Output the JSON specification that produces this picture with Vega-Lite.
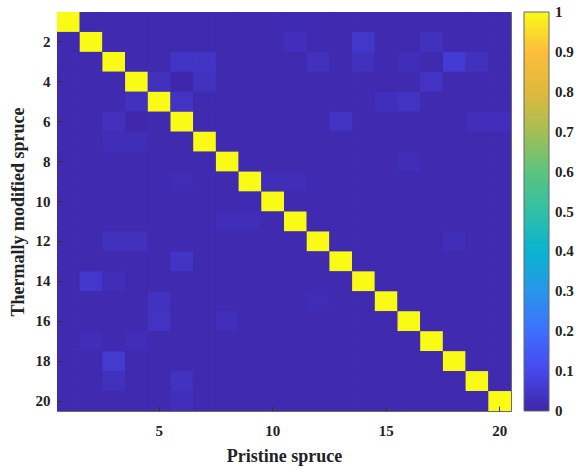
{
  "$schema": "https://vega.github.io/schema/vega-lite/v6.json",
  "width": 454,
  "height": 399,
  "autosize": {"type": "none"},
  "padding": {"left": 57, "top": 12, "right": 68, "bottom": 57},
  "background": "white",
  "config": {"view": {"stroke": "#6b6b6b", "strokeWidth": 1, "fill": "#3f2bae"}, "font": "Liberation Serif", "axis": {"grid": false}},
  "data": {"values": [
{"p":1,"t":1,"v":1},{"p":2,"t":1,"v":0.012},{"p":3,"t":1,"v":0.012},{"p":4,"t":1,"v":0.012},{"p":5,"t":1,"v":0.012},{"p":6,"t":1,"v":0.012},{"p":7,"t":1,"v":0.012},{"p":8,"t":1,"v":0.012},{"p":9,"t":1,"v":0.012},{"p":10,"t":1,"v":0.012},{"p":11,"t":1,"v":0.016},{"p":12,"t":1,"v":0.012},{"p":13,"t":1,"v":0.012},{"p":14,"t":1,"v":0.012},{"p":15,"t":1,"v":0.012},{"p":16,"t":1,"v":0.012},{"p":17,"t":1,"v":0.012},{"p":18,"t":1,"v":0.012},{"p":19,"t":1,"v":0.012},{"p":20,"t":1,"v":0.012},
{"p":1,"t":2,"v":0.012},{"p":2,"t":2,"v":1},{"p":3,"t":2,"v":0.012},{"p":4,"t":2,"v":0.012},{"p":5,"t":2,"v":0.012},{"p":6,"t":2,"v":0.012},{"p":7,"t":2,"v":0.012},{"p":8,"t":2,"v":0.012},{"p":9,"t":2,"v":0.012},{"p":10,"t":2,"v":0.012},{"p":11,"t":2,"v":0.028},{"p":12,"t":2,"v":0.012},{"p":13,"t":2,"v":0.012},{"p":14,"t":2,"v":0.05},{"p":15,"t":2,"v":0.012},{"p":16,"t":2,"v":0.012},{"p":17,"t":2,"v":0.032},{"p":18,"t":2,"v":0.012},{"p":19,"t":2,"v":0.012},{"p":20,"t":2,"v":0.012},
{"p":1,"t":3,"v":0.012},{"p":2,"t":3,"v":0.012},{"p":3,"t":3,"v":1},{"p":4,"t":3,"v":0.012},{"p":5,"t":3,"v":0.012},{"p":6,"t":3,"v":0.043},{"p":7,"t":3,"v":0.043},{"p":8,"t":3,"v":0.012},{"p":9,"t":3,"v":0.012},{"p":10,"t":3,"v":0.012},{"p":11,"t":3,"v":0.012},{"p":12,"t":3,"v":0.032},{"p":13,"t":3,"v":0.012},{"p":14,"t":3,"v":0.032},{"p":15,"t":3,"v":0.012},{"p":16,"t":3,"v":0.025},{"p":17,"t":3,"v":0.012},{"p":18,"t":3,"v":0.065},{"p":19,"t":3,"v":0.032},{"p":20,"t":3,"v":0.012},
{"p":1,"t":4,"v":0.012},{"p":2,"t":4,"v":0.012},{"p":3,"t":4,"v":0.012},{"p":4,"t":4,"v":1},{"p":5,"t":4,"v":0.032},{"p":6,"t":4,"v":0.004},{"p":7,"t":4,"v":0.036},{"p":8,"t":4,"v":0.012},{"p":9,"t":4,"v":0.012},{"p":10,"t":4,"v":0.012},{"p":11,"t":4,"v":0.012},{"p":12,"t":4,"v":0.012},{"p":13,"t":4,"v":0.012},{"p":14,"t":4,"v":0.012},{"p":15,"t":4,"v":0.012},{"p":16,"t":4,"v":0.012},{"p":17,"t":4,"v":0.04},{"p":18,"t":4,"v":0.012},{"p":19,"t":4,"v":0.012},{"p":20,"t":4,"v":0.012},
{"p":1,"t":5,"v":0.012},{"p":2,"t":5,"v":0.012},{"p":3,"t":5,"v":0.012},{"p":4,"t":5,"v":0.032},{"p":5,"t":5,"v":1},{"p":6,"t":5,"v":0.04},{"p":7,"t":5,"v":0.012},{"p":8,"t":5,"v":0.012},{"p":9,"t":5,"v":0.012},{"p":10,"t":5,"v":0.012},{"p":11,"t":5,"v":0.012},{"p":12,"t":5,"v":0.012},{"p":13,"t":5,"v":0.012},{"p":14,"t":5,"v":0.012},{"p":15,"t":5,"v":0.028},{"p":16,"t":5,"v":0.04},{"p":17,"t":5,"v":0.012},{"p":18,"t":5,"v":0.012},{"p":19,"t":5,"v":0.012},{"p":20,"t":5,"v":0.012},
{"p":1,"t":6,"v":0.012},{"p":2,"t":6,"v":0.012},{"p":3,"t":6,"v":0.032},{"p":4,"t":6,"v":0.006},{"p":5,"t":6,"v":0.012},{"p":6,"t":6,"v":1},{"p":7,"t":6,"v":0.012},{"p":8,"t":6,"v":0.012},{"p":9,"t":6,"v":0.012},{"p":10,"t":6,"v":0.012},{"p":11,"t":6,"v":0.012},{"p":12,"t":6,"v":0.012},{"p":13,"t":6,"v":0.04},{"p":14,"t":6,"v":0.012},{"p":15,"t":6,"v":0.012},{"p":16,"t":6,"v":0.012},{"p":17,"t":6,"v":0.012},{"p":18,"t":6,"v":0.012},{"p":19,"t":6,"v":0.028},{"p":20,"t":6,"v":0.028},
{"p":1,"t":7,"v":0.012},{"p":2,"t":7,"v":0.012},{"p":3,"t":7,"v":0.025},{"p":4,"t":7,"v":0.025},{"p":5,"t":7,"v":0.012},{"p":6,"t":7,"v":0.012},{"p":7,"t":7,"v":1},{"p":8,"t":7,"v":0.012},{"p":9,"t":7,"v":0.012},{"p":10,"t":7,"v":0.012},{"p":11,"t":7,"v":0.012},{"p":12,"t":7,"v":0.012},{"p":13,"t":7,"v":0.012},{"p":14,"t":7,"v":0.012},{"p":15,"t":7,"v":0.012},{"p":16,"t":7,"v":0.012},{"p":17,"t":7,"v":0.012},{"p":18,"t":7,"v":0.012},{"p":19,"t":7,"v":0.012},{"p":20,"t":7,"v":0.012},
{"p":1,"t":8,"v":0.012},{"p":2,"t":8,"v":0.012},{"p":3,"t":8,"v":0.012},{"p":4,"t":8,"v":0.012},{"p":5,"t":8,"v":0.012},{"p":6,"t":8,"v":0.012},{"p":7,"t":8,"v":0.012},{"p":8,"t":8,"v":1},{"p":9,"t":8,"v":0.012},{"p":10,"t":8,"v":0.012},{"p":11,"t":8,"v":0.012},{"p":12,"t":8,"v":0.012},{"p":13,"t":8,"v":0.012},{"p":14,"t":8,"v":0.012},{"p":15,"t":8,"v":0.012},{"p":16,"t":8,"v":0.025},{"p":17,"t":8,"v":0.012},{"p":18,"t":8,"v":0.012},{"p":19,"t":8,"v":0.012},{"p":20,"t":8,"v":0.012},
{"p":1,"t":9,"v":0.012},{"p":2,"t":9,"v":0.012},{"p":3,"t":9,"v":0.012},{"p":4,"t":9,"v":0.012},{"p":5,"t":9,"v":0.012},{"p":6,"t":9,"v":0.02},{"p":7,"t":9,"v":0.012},{"p":8,"t":9,"v":0.012},{"p":9,"t":9,"v":1},{"p":10,"t":9,"v":0.025},{"p":11,"t":9,"v":0.025},{"p":12,"t":9,"v":0.012},{"p":13,"t":9,"v":0.012},{"p":14,"t":9,"v":0.012},{"p":15,"t":9,"v":0.012},{"p":16,"t":9,"v":0.012},{"p":17,"t":9,"v":0.012},{"p":18,"t":9,"v":0.012},{"p":19,"t":9,"v":0.012},{"p":20,"t":9,"v":0.012},
{"p":1,"t":10,"v":0.012},{"p":2,"t":10,"v":0.012},{"p":3,"t":10,"v":0.012},{"p":4,"t":10,"v":0.012},{"p":5,"t":10,"v":0.012},{"p":6,"t":10,"v":0.012},{"p":7,"t":10,"v":0.012},{"p":8,"t":10,"v":0.012},{"p":9,"t":10,"v":0.016},{"p":10,"t":10,"v":1},{"p":11,"t":10,"v":0.012},{"p":12,"t":10,"v":0.012},{"p":13,"t":10,"v":0.012},{"p":14,"t":10,"v":0.012},{"p":15,"t":10,"v":0.012},{"p":16,"t":10,"v":0.012},{"p":17,"t":10,"v":0.012},{"p":18,"t":10,"v":0.012},{"p":19,"t":10,"v":0.012},{"p":20,"t":10,"v":0.012},
{"p":1,"t":11,"v":0.012},{"p":2,"t":11,"v":0.012},{"p":3,"t":11,"v":0.012},{"p":4,"t":11,"v":0.012},{"p":5,"t":11,"v":0.012},{"p":6,"t":11,"v":0.012},{"p":7,"t":11,"v":0.012},{"p":8,"t":11,"v":0.025},{"p":9,"t":11,"v":0.025},{"p":10,"t":11,"v":0.012},{"p":11,"t":11,"v":1},{"p":12,"t":11,"v":0.012},{"p":13,"t":11,"v":0.012},{"p":14,"t":11,"v":0.012},{"p":15,"t":11,"v":0.012},{"p":16,"t":11,"v":0.012},{"p":17,"t":11,"v":0.012},{"p":18,"t":11,"v":0.012},{"p":19,"t":11,"v":0.012},{"p":20,"t":11,"v":0.012},
{"p":1,"t":12,"v":0.012},{"p":2,"t":12,"v":0.012},{"p":3,"t":12,"v":0.032},{"p":4,"t":12,"v":0.032},{"p":5,"t":12,"v":0.012},{"p":6,"t":12,"v":0.012},{"p":7,"t":12,"v":0.012},{"p":8,"t":12,"v":0.012},{"p":9,"t":12,"v":0.012},{"p":10,"t":12,"v":0.012},{"p":11,"t":12,"v":0.012},{"p":12,"t":12,"v":1},{"p":13,"t":12,"v":0.012},{"p":14,"t":12,"v":0.012},{"p":15,"t":12,"v":0.012},{"p":16,"t":12,"v":0.012},{"p":17,"t":12,"v":0.012},{"p":18,"t":12,"v":0.025},{"p":19,"t":12,"v":0.012},{"p":20,"t":12,"v":0.012},
{"p":1,"t":13,"v":0.012},{"p":2,"t":13,"v":0.012},{"p":3,"t":13,"v":0.012},{"p":4,"t":13,"v":0.012},{"p":5,"t":13,"v":0.012},{"p":6,"t":13,"v":0.043},{"p":7,"t":13,"v":0.012},{"p":8,"t":13,"v":0.012},{"p":9,"t":13,"v":0.012},{"p":10,"t":13,"v":0.012},{"p":11,"t":13,"v":0.012},{"p":12,"t":13,"v":0.012},{"p":13,"t":13,"v":1},{"p":14,"t":13,"v":0.012},{"p":15,"t":13,"v":0.012},{"p":16,"t":13,"v":0.012},{"p":17,"t":13,"v":0.012},{"p":18,"t":13,"v":0.012},{"p":19,"t":13,"v":0.012},{"p":20,"t":13,"v":0.012},
{"p":1,"t":14,"v":0.012},{"p":2,"t":14,"v":0.053},{"p":3,"t":14,"v":0.025},{"p":4,"t":14,"v":0.012},{"p":5,"t":14,"v":0.012},{"p":6,"t":14,"v":0.012},{"p":7,"t":14,"v":0.012},{"p":8,"t":14,"v":0.012},{"p":9,"t":14,"v":0.012},{"p":10,"t":14,"v":0.012},{"p":11,"t":14,"v":0.012},{"p":12,"t":14,"v":0.012},{"p":13,"t":14,"v":0.012},{"p":14,"t":14,"v":1},{"p":15,"t":14,"v":0.012},{"p":16,"t":14,"v":0.012},{"p":17,"t":14,"v":0.012},{"p":18,"t":14,"v":0.012},{"p":19,"t":14,"v":0.012},{"p":20,"t":14,"v":0.012},
{"p":1,"t":15,"v":0.012},{"p":2,"t":15,"v":0.012},{"p":3,"t":15,"v":0.012},{"p":4,"t":15,"v":0.012},{"p":5,"t":15,"v":0.036},{"p":6,"t":15,"v":0.012},{"p":7,"t":15,"v":0.012},{"p":8,"t":15,"v":0.012},{"p":9,"t":15,"v":0.012},{"p":10,"t":15,"v":0.012},{"p":11,"t":15,"v":0.012},{"p":12,"t":15,"v":0.02},{"p":13,"t":15,"v":0.012},{"p":14,"t":15,"v":0.012},{"p":15,"t":15,"v":1},{"p":16,"t":15,"v":0.012},{"p":17,"t":15,"v":0.012},{"p":18,"t":15,"v":0.012},{"p":19,"t":15,"v":0.012},{"p":20,"t":15,"v":0.012},
{"p":1,"t":16,"v":0.012},{"p":2,"t":16,"v":0.012},{"p":3,"t":16,"v":0.012},{"p":4,"t":16,"v":0.012},{"p":5,"t":16,"v":0.04},{"p":6,"t":16,"v":0.012},{"p":7,"t":16,"v":0.012},{"p":8,"t":16,"v":0.028},{"p":9,"t":16,"v":0.012},{"p":10,"t":16,"v":0.012},{"p":11,"t":16,"v":0.012},{"p":12,"t":16,"v":0.012},{"p":13,"t":16,"v":0.012},{"p":14,"t":16,"v":0.012},{"p":15,"t":16,"v":0.012},{"p":16,"t":16,"v":1},{"p":17,"t":16,"v":0.012},{"p":18,"t":16,"v":0.012},{"p":19,"t":16,"v":0.012},{"p":20,"t":16,"v":0.012},
{"p":1,"t":17,"v":0.012},{"p":2,"t":17,"v":0.025},{"p":3,"t":17,"v":0.012},{"p":4,"t":17,"v":0.025},{"p":5,"t":17,"v":0.012},{"p":6,"t":17,"v":0.012},{"p":7,"t":17,"v":0.012},{"p":8,"t":17,"v":0.012},{"p":9,"t":17,"v":0.012},{"p":10,"t":17,"v":0.012},{"p":11,"t":17,"v":0.012},{"p":12,"t":17,"v":0.012},{"p":13,"t":17,"v":0.012},{"p":14,"t":17,"v":0.012},{"p":15,"t":17,"v":0.012},{"p":16,"t":17,"v":0.012},{"p":17,"t":17,"v":1},{"p":18,"t":17,"v":0.012},{"p":19,"t":17,"v":0.012},{"p":20,"t":17,"v":0.012},
{"p":1,"t":18,"v":0.012},{"p":2,"t":18,"v":0.012},{"p":3,"t":18,"v":0.06},{"p":4,"t":18,"v":0.012},{"p":5,"t":18,"v":0.012},{"p":6,"t":18,"v":0.012},{"p":7,"t":18,"v":0.012},{"p":8,"t":18,"v":0.012},{"p":9,"t":18,"v":0.012},{"p":10,"t":18,"v":0.012},{"p":11,"t":18,"v":0.012},{"p":12,"t":18,"v":0.012},{"p":13,"t":18,"v":0.012},{"p":14,"t":18,"v":0.012},{"p":15,"t":18,"v":0.012},{"p":16,"t":18,"v":0.012},{"p":17,"t":18,"v":0.012},{"p":18,"t":18,"v":1},{"p":19,"t":18,"v":0.012},{"p":20,"t":18,"v":0.012},
{"p":1,"t":19,"v":0.012},{"p":2,"t":19,"v":0.012},{"p":3,"t":19,"v":0.032},{"p":4,"t":19,"v":0.012},{"p":5,"t":19,"v":0.012},{"p":6,"t":19,"v":0.036},{"p":7,"t":19,"v":0.012},{"p":8,"t":19,"v":0.012},{"p":9,"t":19,"v":0.012},{"p":10,"t":19,"v":0.012},{"p":11,"t":19,"v":0.012},{"p":12,"t":19,"v":0.012},{"p":13,"t":19,"v":0.012},{"p":14,"t":19,"v":0.012},{"p":15,"t":19,"v":0.012},{"p":16,"t":19,"v":0.012},{"p":17,"t":19,"v":0.012},{"p":18,"t":19,"v":0.012},{"p":19,"t":19,"v":1},{"p":20,"t":19,"v":0.012},
{"p":1,"t":20,"v":0.012},{"p":2,"t":20,"v":0.012},{"p":3,"t":20,"v":0.012},{"p":4,"t":20,"v":0.012},{"p":5,"t":20,"v":0.012},{"p":6,"t":20,"v":0.028},{"p":7,"t":20,"v":0.012},{"p":8,"t":20,"v":0.012},{"p":9,"t":20,"v":0.012},{"p":10,"t":20,"v":0.012},{"p":11,"t":20,"v":0.012},{"p":12,"t":20,"v":0.012},{"p":13,"t":20,"v":0.012},{"p":14,"t":20,"v":0.012},{"p":15,"t":20,"v":0.012},{"p":16,"t":20,"v":0.012},{"p":17,"t":20,"v":0.012},{"p":18,"t":20,"v":0.012},{"p":19,"t":20,"v":0.012},{"p":20,"t":20,"v":1}
  ]},
  "mark": {"type": "rect"},
  "encoding": {
    "x": {
      "field": "p", "type": "ordinal",
      "scale": {"paddingInner": 0, "paddingOuter": 0},
      "axis": {
        "values": [5, 10, 15, 20], "labelAngle": 0, "title": "Pristine spruce", "grid": false,
        "domain": false, "tickSize": -5, "tickColor": "#333", "labelPadding": 17,
        "labelFontSize": 15, "labelFontWeight": "bold", "labelColor": "#222",
        "titleFontSize": 18, "titleFontWeight": "bold", "titleColor": "#222", "titlePadding": 9
      }
    },
    "y": {
      "field": "t", "type": "ordinal",
      "scale": {"paddingInner": 0, "paddingOuter": 0},
      "axis": {
        "values": [2, 4, 6, 8, 10, 12, 14, 16, 18, 20], "title": "Thermally modified spruce", "grid": false,
        "domain": false, "tickSize": -5, "tickColor": "#333", "labelPadding": 12,
        "labelFontSize": 15, "labelFontWeight": "bold", "labelColor": "#222",
        "titleFontSize": 18, "titleFontWeight": "bold", "titleColor": "#222", "titlePadding": 8
      }
    },
    "color": {
      "field": "v", "type": "quantitative",
      "scale": {
        "domain": [0, 0.1, 0.2, 0.3, 0.4, 0.5, 0.6, 0.7, 0.8, 0.9, 1],
        "range": ["#3e26a8", "#4747eb", "#3e6ffe", "#2796eb", "#08b4d0", "#31c0a5", "#5cc47e", "#a5be54", "#e0b93c", "#fdbd3c", "#f9fb15"],
        "interpolate": "rgb"
      },
      "legend": {
        "title": null, "orient": "right", "offset": 13, "padding": 0, "direction": "vertical",
        "gradientLength": 399, "gradientThickness": 25,
        "gradientStrokeColor": "#666", "gradientStrokeWidth": 1,
        "values": [0, 0.1, 0.2, 0.3, 0.4, 0.5, 0.6, 0.7, 0.8, 0.9, 1],
        "format": ".1~f", "labelFontSize": 15, "labelFontWeight": "bold", "labelColor": "#222",
        "labelOffset": 6, "labelOverlap": false,
        "encode": {"labels": {"update": {"baseline": {"value": "middle"}}}}
      }
    }
  }
}
